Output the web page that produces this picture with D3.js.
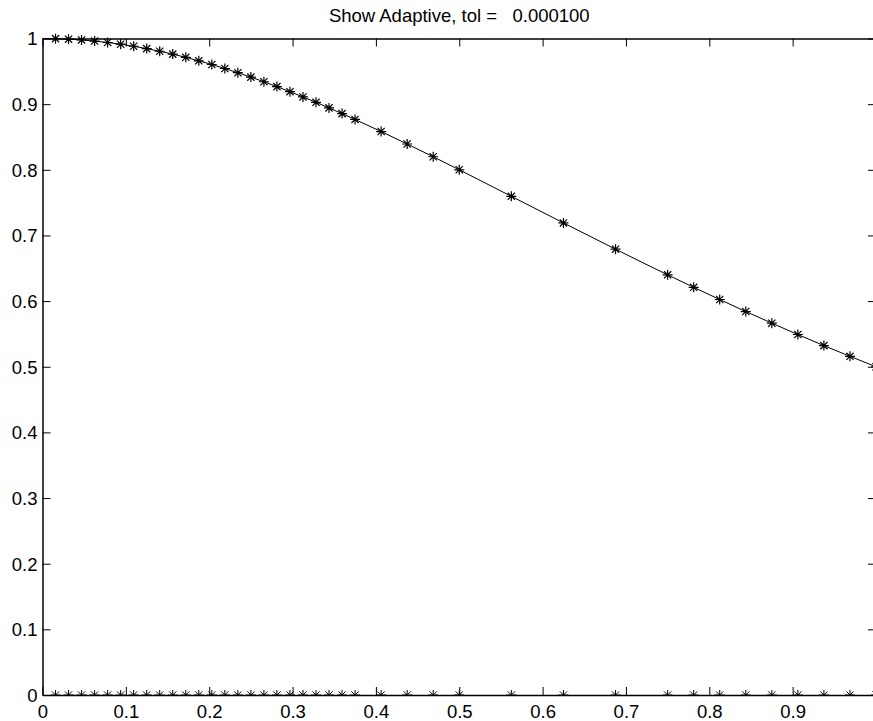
<!DOCTYPE html>
<html>
<head>
<meta charset="utf-8">
<script src="https://cdn.jsdelivr.net/npm/d3@7"></script>
<style>
    html, body { margin: 0; background: #fff; overflow: hidden; }
    svg { display: block; }
    text { font-family: "Liberation Sans", Arial, sans-serif; fill: #000; }
</style>
</head>
<body>
<div id="wrapper"></div>
<script>
// SAMPLE POINTS (x) AND FUNCTION VALUES (y)
const xPoints = [
    0.015625, 0.03125, 0.046875, 0.0625, 0.078125, 0.09375, 0.109375, 0.125,
    0.140625, 0.15625, 0.171875, 0.1875, 0.203125, 0.21875, 0.234375, 0.25,
    0.265625, 0.28125, 0.296875, 0.3125, 0.328125, 0.34375, 0.359375, 0.375,
    0.40625, 0.4375, 0.46875, 0.5, 0.5625, 0.625, 0.6875, 0.75,
    0.78125, 0.8125, 0.84375, 0.875, 0.90625, 0.9375, 0.96875, 1.0
];
const yPoints = [
    0.9998, 0.9990, 0.9978, 0.9961, 0.9939, 0.9913, 0.9882, 0.9846,
    0.9806, 0.9762, 0.9713, 0.9660, 0.9604, 0.9543, 0.9479, 0.9412,
    0.9341, 0.9267, 0.9190, 0.9110, 0.9028, 0.8943, 0.8856, 0.8767,
    0.8583, 0.8393, 0.8199, 0.8000, 0.7596, 0.7191, 0.6791, 0.6400,
    0.6210, 0.6024, 0.5841, 0.5664, 0.5491, 0.5322, 0.5159, 0.5000
];
// CURVE STARTS AT THE LEFT END OF THE INTERVAL
const curveStart = [0, 1];
const xTicks = [0, 0.1, 0.2, 0.3, 0.4, 0.5, 0.6, 0.7, 0.8, 0.9];
const yTicks = [0, 0.1, 0.2, 0.3, 0.4, 0.5, 0.6, 0.7, 0.8, 0.9, 1];
const titleText = "Show Adaptive, tol =   0.000100";

let dimension = {
    width: 873,
    height: 721,
    margin: { top: 38.5, right: -3, bottom: 26, left: 42.5 },
}
dimension.boundedWidth = dimension.width - dimension.margin.left - dimension.margin.right;
dimension.boundedHeight = dimension.height - dimension.margin.top - dimension.margin.bottom;

const data = xPoints.map((x, i) => ({ x: x, y: yPoints[i] }));
const fontSize = "18.5px";

//SCALES
const xScale = d3.scaleLinear().domain([0, 1]).range([0, dimension.boundedWidth]);
const yScale = d3.scaleLinear().domain([0, 1]).range([dimension.boundedHeight, 0]);

const svg = d3.select("#wrapper")
    .append("svg")
    .attr("width", dimension.width)
    .attr("height", dimension.height)

svg.append("defs").append("clipPath")
    .attr("id", "clip")
    .append("rect")
    .attr("x", -20)
    .attr("y", -20)
    .attr("width", dimension.boundedWidth + 40)
    .attr("height", dimension.boundedHeight + 20)

const bounds = svg.append("g")
    .attr("transform", `translate(${dimension.margin.left}, ${dimension.margin.top})`)

//TITLE
svg.append("text")
    .attr("x", dimension.margin.left + dimension.boundedWidth / 2)
    .attr("y", 22)
    .attr("text-anchor", "middle")
    .style("font-size", fontSize)
    .style("white-space", "pre")
    .text(titleText)

//AXES (TICKS POINT INWARD, LIKE THE ORIGINAL)
const tickLen = 8;
const xAxis = d3.axisBottom(xScale).tickValues(xTicks).tickSizeInner(-tickLen).tickSizeOuter(0).tickPadding(10).tickFormat(d3.format("~g"));
const yAxis = d3.axisLeft(yScale).tickValues(yTicks).tickSizeInner(-tickLen).tickSizeOuter(0).tickPadding(5).tickFormat(d3.format("~g"));

const gx = bounds.append("g").attr("transform", `translate(0, ${dimension.boundedHeight})`).call(xAxis)
const gy = bounds.append("g").call(yAxis)
// top and right ticks, no labels
const gxTop = bounds.append("g").call(d3.axisTop(xScale).tickValues(xTicks).tickSizeInner(-tickLen).tickSizeOuter(0).tickFormat(""))
const gyRight = bounds.append("g").attr("transform", `translate(${dimension.boundedWidth}, 0)`)
    .call(d3.axisRight(yScale).tickValues(yTicks).tickSizeInner(-tickLen).tickSizeOuter(0).tickFormat(""))

for (const g of [gx, gy, gxTop, gyRight]) {
    g.selectAll("path.domain").attr("stroke", "#000").attr("stroke-width", 1.5)
    g.selectAll(".tick line").attr("stroke", "#000")
    g.selectAll(".tick text").style("font-size", fontSize).attr("fill", "#000")
        .style("font-family", '"Liberation Sans", Arial, sans-serif')
}
gx.selectAll(".tick text").attr("dy", "0.71em")
gy.selectAll(".tick text").attr("dy", "0.35em")

//LINE THROUGH THE FUNCTION VALUES
const line = d3.line()
    .x(d => xScale(d.x))
    .y(d => yScale(d.y))
    .curve(d3.curveMonotoneX)

bounds.append("path")
    .datum([{ x: curveStart[0], y: curveStart[1] }].concat(data))
    .attr("d", line)
    .attr("fill", "none")
    .attr("stroke", "#000")
    .attr("stroke-width", 1)

//ASTERISK MARKERS
const r = 5;
const starPath = `M${-r},0L${r},0M0,${-r}L0,${r}` +
    `M${-r * 0.72},${-r * 0.72}L${r * 0.72},${r * 0.72}M${-r * 0.72},${r * 0.72}L${r * 0.72},${-r * 0.72}`;

bounds.append("g")
    .selectAll("path")
    .data(data)
    .enter()
    .append("path")
    .attr("d", starPath)
    .attr("transform", d => `translate(${xScale(d.x)}, ${yScale(d.y)})`)
    .attr("stroke", "#000")
    .attr("stroke-width", 1.2)
    .attr("fill", "none")

// markers of the sample locations on the x axis (lower half cut by the axes)
bounds.append("g")
    .attr("clip-path", "url(#clip)")
    .selectAll("path")
    .data(data)
    .enter()
    .append("path")
    .attr("d", starPath)
    .attr("transform", d => `translate(${xScale(d.x)}, ${yScale(0)})`)
    .attr("stroke", "#000")
    .attr("stroke-width", 1)
    .attr("fill", "none")
</script>
</body>
</html>
